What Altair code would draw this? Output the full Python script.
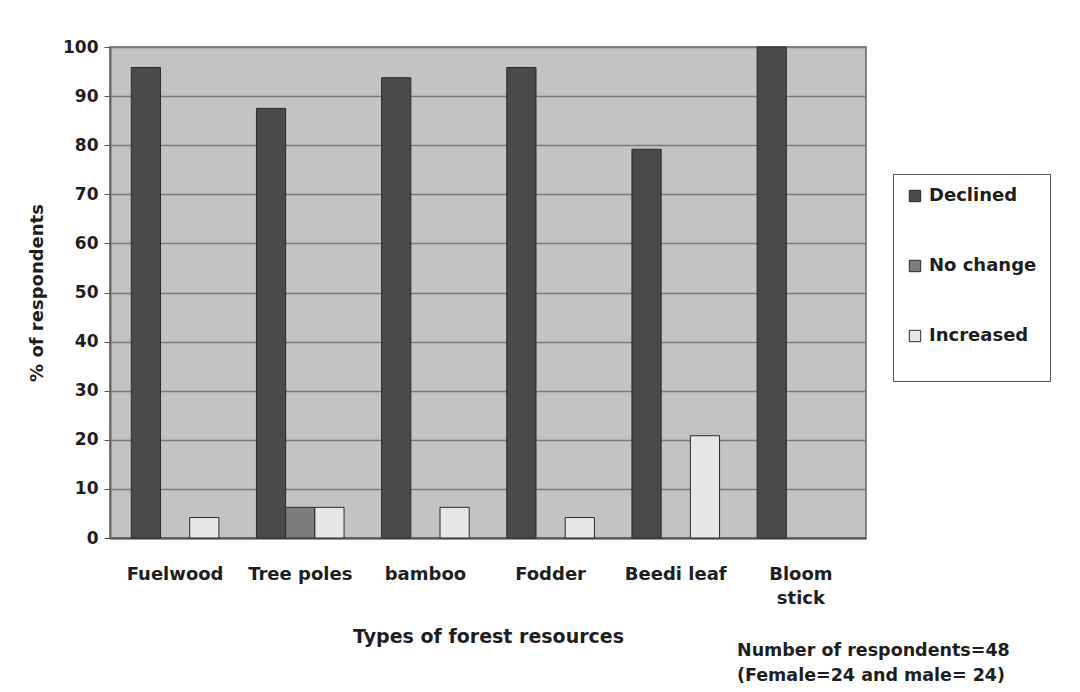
import altair as alt
import pandas as pd

# Forest resource availability as reported by respondents
resources = ["Fuelwood", "Tree poles", "bamboo", "Fodder", "Beedi leaf", "Bloom stick"]
declined = [95.83, 87.5, 93.75, 95.83, 79.17, 100.0]
no_change = [0.0, 6.25, 0.0, 0.0, 0.0, 0.0]
increased = [4.17, 6.25, 6.25, 4.17, 20.83, 0.0]

trends = ["Declined", "No change", "Increased"]
fills = ["#4a4a4a", "#7c7c7c", "#e6e6e6"]

rows = []
for i, r in enumerate(resources):
    for t, vals in zip(trends, [declined, no_change, increased]):
        if vals[i] > 0:
            rows.append({"resource": r, "trend": t, "pct": vals[i]})
df = pd.DataFrame(rows)

FONT = "DejaVu Sans"
INK = "#1e1e1e"

bars = alt.Chart(df).mark_bar(stroke="#2a2a2a", strokeWidth=1).encode(
    x=alt.X("resource:N", sort=resources,
            scale=alt.Scale(domain=resources, paddingInner=0.3, paddingOuter=0.17),
            axis=alt.Axis(title="Types of forest resources", labelAngle=0,
                          labelExpr="datum.label == 'Bloom stick' ? ['Bloom', 'stick'] : datum.label",
                          labelLineHeight=24, labelPadding=27, ticks=False,
                          labelFontSize=18, titleFontSize=19,
                          domainColor="#555555", domainWidth=2,
                          titlePadding=20)),
    xOffset=alt.XOffset("trend:N", sort=trends, scale=alt.Scale(domain=trends)),
    y=alt.Y("pct:Q", scale=alt.Scale(domain=[0, 100], nice=False),
            axis=alt.Axis(title="% of respondents", values=list(range(0, 101, 10)),
                          tickSize=6, tickColor="#555555", labelPadding=6,
                          labelFontSize=17, titleFontSize=18,
                          domainColor="#666666", domainWidth=2,
                          gridColor="#7a7a7a", gridWidth=1.5, titlePadding=16)),
    fill=alt.Fill("trend:N", sort=trends,
                  scale=alt.Scale(domain=trends, range=fills),
                  legend=alt.Legend(title=" ", titleOrient="bottom", titleFontSize=12,
                                    titlePadding=12,
                                    orient="none", legendX=783, legendY=127,
                                    symbolType="square", symbolSize=130,
                                    symbolStrokeColor="#2a2a2a", symbolStrokeWidth=1,
                                    labelFontSize=18, labelFont=FONT, labelFontWeight="bold",
                                    labelColor=INK, rowPadding=52, labelOffset=5,
                                    padding=13, strokeColor="#555555", fillColor="#ffffff",
                                    labelLimit=200)),
)

note = alt.Chart(pd.DataFrame({"t": [["Number of respondents=48", "(Female=24 and male= 24)"]]})).mark_text(
    align="left", baseline="middle", font=FONT, fontWeight="bold", fontSize=17.5,
    color=INK, lineHeight=25,
).encode(text="t", x=alt.value(627), y=alt.value(604))

chart = alt.layer(bars, note).properties(
    width=756, height=491,
    background="#ffffff",
    autosize=alt.AutoSizeParams(type="none"),
    padding={"left": 110, "top": 47, "right": 214, "bottom": 154},
).configure_view(
    fill="#c3c3c3", stroke="#666666", strokeWidth=1.5,
).configure_axis(
    labelFont=FONT, labelFontWeight="bold", labelColor=INK,
    titleFont=FONT, titleFontWeight="bold", titleColor=INK,
)

chart.save("out.html", embed_options={"renderer": "svg", "actions": False})
